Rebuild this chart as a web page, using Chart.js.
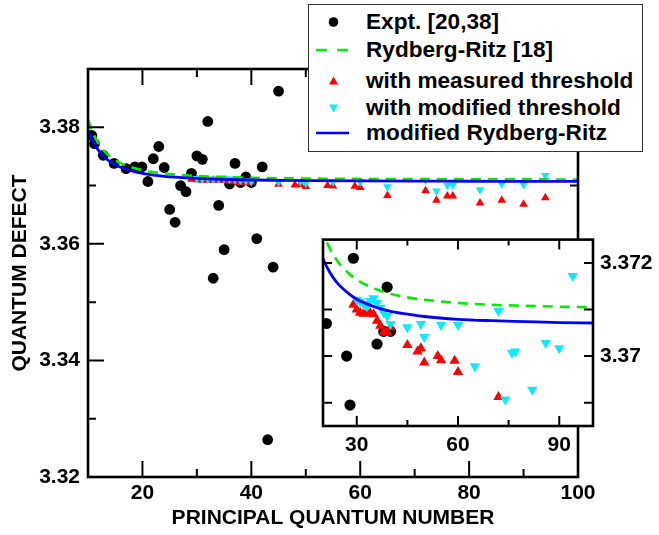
<!DOCTYPE html>
<html>
<head>
<meta charset="utf-8">
<script src="https://cdn.jsdelivr.net/npm/chart.js@4.4.0/dist/chart.umd.min.js"></script>
<style>
html,body{margin:0;padding:0;background:#fff;}
#wrap{position:relative;width:659px;height:535px;overflow:hidden;background:#fff;}
#main{position:absolute;left:0;top:0;}
#inset{position:absolute;left:300px;top:220px;}
#legend{position:absolute;left:308px;top:4px;width:335px;height:148px;box-sizing:border-box;border:1.5px solid #333;background:#fff;font:bold 22.6px "Liberation Sans",Arial,Helvetica,sans-serif;color:#000;}
.row{position:absolute;left:0;width:330px;height:28px;}
.row svg{position:absolute;left:0;top:0;}
.row span{position:absolute;left:57px;top:0;line-height:28px;white-space:nowrap;}
</style>
</head>
<body>
<div id="wrap">
  <canvas id="main" width="659" height="535"></canvas>
  <canvas id="inset" width="359" height="250"></canvas>
  <div id="legend">
    <div class="row" style="top:2.5px"><svg width="50" height="28"><circle cx="24.5" cy="14" r="4.8" fill="#000"/></svg><span>Expt. [20,38]</span></div>
    <div class="row" style="top:30.5px"><svg width="50" height="28"><line x1="7" y1="14" x2="40" y2="14" stroke="#00ee00" stroke-width="2.5" stroke-dasharray="11 10"/></svg><span>Rydberg-Ritz [18]</span></div>
    <div class="row" style="top:62px"><svg width="50" height="28"><polygon points="24.5,9.5 29,17.5 20,17.5" fill="#ff0000"/></svg><span>with measured threshold</span></div>
    <div class="row" style="top:88.5px"><svg width="50" height="28"><polygon points="20,10.5 29,10.5 24.5,18.5" fill="#10e8ff"/></svg><span>with modified threshold</span></div>
    <div class="row" style="top:114px"><svg width="50" height="28"><line x1="7" y1="14" x2="40" y2="14" stroke="#0000ff" stroke-width="2.5"/></svg><span>modified Rydberg-Ritz</span></div>
  </div>
</div>
<script>
// ---------------- data ----------------
const exptN = [10.7, 11.2, 12.8, 14.8, 17.0, 18.6, 19.9, 21, 22, 23, 24, 25, 26, 27, 28, 29, 30, 31, 32, 33, 34, 35, 36, 37, 38, 39, 40, 41, 42, 43, 44, 45];
const exptVals = [3.3786, 3.3772, 3.3752, 3.3738, 3.3729, 3.3732, 3.3732, 3.3707, 3.3746, 3.3767, 3.3731, 3.3659, 3.3637, 3.3700, 3.36895, 3.3721, 3.3751, 3.3745, 3.3810, 3.3541, 3.3666, 3.3590, 3.37026, 3.3738, 3.37053, 3.37148, 3.37053, 3.3609, 3.3732, 3.3264, 3.3560, 3.3862];

const measN = [29, 30, 31, 32, 33, 34, 35, 36, 37, 38, 39, 40, 45, 48, 49, 50, 54, 55, 59, 60, 65, 72, 74, 76, 77, 82, 86, 90, 94];
const measVals = [3.3711, 3.3710, 3.37093, 3.37091, 3.37093, 3.37092, 3.3709, 3.37076, 3.37065, 3.37052, 3.3705, 3.37062, 3.37024, 3.3701, 3.37017, 3.36986, 3.3700, 3.36991, 3.3699, 3.36966, 3.3683, 3.36912, 3.3675, 3.3682, 3.3682, 3.3670, 3.3675, 3.3668, 3.3679];

const modN = [30, 31, 32, 33, 34, 35, 36, 37, 38, 39, 40, 45, 49, 50, 55, 60, 65, 72, 74, 76, 77, 82, 86, 90, 94];
const modVals = [3.37121, 3.37117, 3.37112, 3.37107, 3.37118, 3.37124, 3.37114, 3.37104, 3.37093, 3.37086, 3.37069, 3.37062, 3.37069, 3.37041, 3.37067, 3.37067, 3.36978, 3.37097, 3.36907, 3.37007, 3.3701, 3.36928, 3.37028, 3.37017, 3.37172];

const curveN = [10, 11, 12, 13, 14, 15, 16, 18, 20, 22, 24, 26, 28, 30, 33, 36, 40, 45, 50, 60, 70, 80, 90, 100];
const rydbergRitzVals = [3.38135, 3.37882, 3.37711, 3.37591, 3.37503, 3.37437, 3.37385, 3.37313, 3.37265, 3.37231, 3.37207, 3.37189, 3.37175, 3.37164, 3.37152, 3.37143, 3.37134, 3.37126, 3.37121, 3.37114, 3.37110, 3.37108, 3.37106, 3.37105];
const modRydbergRitzVals = [3.37961, 3.37742, 3.37595, 3.37491, 3.37415, 3.37358, 3.37313, 3.37251, 3.37209, 3.37180, 3.37159, 3.37144, 3.37132, 3.37122, 3.37112, 3.37104, 3.37096, 3.37090, 3.37085, 3.37079, 3.37076, 3.37074, 3.37072, 3.37071];

// tick labels / tick marks
const mainXTickLabels = [20, 40, 60, 80, 100];
const mainXMinor = [30, 50, 70, 90];
const mainYTickLabels = [3.32, 3.34, 3.36, 3.38];
const mainYMinor = [3.33, 3.35, 3.37];
const insetXTickLabels = [30, 60, 90];
const insetXMinor = [45, 75];
const insetYTickValues = [3.370, 3.372];
const insetYTickLabels = ['3.37', '3.372'];
const insetYMinor = [3.369, 3.371];

// ---------------- helpers ----------------
const FONT = '"Liberation Sans", Arial, Helvetica, sans-serif';
const pts = (xs, ys) => xs.map((x, i) => ({x: x, y: ys[i]}));
const CYAN = '#10e8ff', RED = '#ff0000', GREEN = '#00ee00', BLUE = '#0000ff';

function makeDatasets(big) {
  return [
    {label: 'modified Rydberg-Ritz', data: pts(curveN, modRydbergRitzVals), showLine: true, borderColor: BLUE, borderWidth: 2.8, pointRadius: 0, cubicInterpolationMode: 'monotone', clip: 0},
    {label: 'Rydberg-Ritz [18]', data: pts(curveN, rydbergRitzVals), showLine: true, borderColor: GREEN, borderWidth: 2.6, borderDash: [10, 7], pointRadius: 0, cubicInterpolationMode: 'monotone', clip: 0},
    {label: 'with modified threshold', data: pts(modN, modVals), pointStyle: 'triangle', rotation: 180, pointRadius: big ? 6 : 5, backgroundColor: CYAN, borderWidth: 0, showLine: false, clip: 0},
    {label: 'with measured threshold', data: pts(measN, measVals), pointStyle: 'triangle', pointRadius: big ? 6 : 5, backgroundColor: RED, borderWidth: 0, showLine: false, clip: 0},
    {label: 'Expt. [20,38]', data: pts(exptN, exptVals), pointStyle: 'circle', pointRadius: big ? 5.6 : 5.4, backgroundColor: '#000', borderWidth: 0, showLine: false, clip: 0}
  ];
}

const frameTicks = {
  id: 'frameTicks',
  beforeDraw(chart, args, o) {
    if (!o.fill) return;
    const a = chart.chartArea, ctx = chart.ctx;
    ctx.save(); ctx.fillStyle = '#fff';
    ctx.fillRect(a.left, a.top, a.right - a.left, a.bottom - a.top);
    ctx.restore();
  },
  afterDatasetsDraw(chart, args, o) {
    const {ctx, chartArea: a} = chart;
    const x = chart.scales.x, y = chart.scales.y;
    ctx.save();
    ctx.strokeStyle = '#000';
    ctx.lineWidth = o.tickWidth;
    ctx.beginPath();
    const xt = (vals, len) => vals.forEach(v => {
      const p = x.getPixelForValue(v);
      ctx.moveTo(p, a.bottom); ctx.lineTo(p, a.bottom - len);
      ctx.moveTo(p, a.top); ctx.lineTo(p, a.top + len);
    });
    const yt = (vals, len) => vals.forEach(v => {
      const p = y.getPixelForValue(v);
      ctx.moveTo(a.left, p); ctx.lineTo(a.left + len, p);
      ctx.moveTo(a.right, p); ctx.lineTo(a.right - len, p);
    });
    xt(o.xMajor, o.xMajorLen); xt(o.xMinor, o.xMinorLen);
    yt(o.yMajor, o.yMajorLen); yt(o.yMinor, o.yMinorLen);
    ctx.stroke();
    ctx.lineWidth = o.frameWidth;
    ctx.strokeRect(a.left, a.top, a.right - a.left, a.bottom - a.top);
    ctx.restore();
  }
};

// ---------------- main chart ----------------
new Chart(document.getElementById('main'), {
  type: 'scatter',
  data: {datasets: makeDatasets(false)},
  plugins: [frameTicks],
  options: {
    responsive: false, animation: false, events: [], devicePixelRatio: 1,
    layout: {autoPadding: false, padding: {left: 0, top: 69, right: 81, bottom: 0}},
    plugins: {
      legend: {display: false}, tooltip: {enabled: false},
      frameTicks: {fill: false, tickWidth: 2, frameWidth: 2.6,
        xMajor: mainXTickLabels, xMinor: mainXMinor, yMajor: mainYTickLabels, yMinor: mainYMinor,
        xMajorLen: 16, xMinorLen: 8, yMajorLen: 16, yMinorLen: 8}
    },
    scales: {
      x: {
        type: 'linear', position: 'bottom', min: 10, max: 100,
        afterFit(s) { s.height = 58; },
        afterBuildTicks(s) { s.ticks = mainXTickLabels.map(v => ({value: v})); },
        grid: {display: false, drawTicks: false}, border: {display: false},
        ticks: {padding: 4, color: '#000', autoSkip: false, maxRotation: 0, font: {family: FONT, size: 21, weight: 'bold'}, callback: v => String(v)},
        title: {display: true, text: 'PRINCIPAL QUANTUM NUMBER', color: '#000', padding: {top: 0, bottom: 4}, font: {family: FONT, size: 21, weight: 'bold'}}
      },
      y: {
        type: 'linear', position: 'left', min: 3.32, max: 3.39,
        afterFit(s) { s.width = 88; },
        afterBuildTicks(s) { s.ticks = mainYTickLabels.map(v => ({value: v})); },
        grid: {display: false, drawTicks: false}, border: {display: false},
        ticks: {padding: 8, color: '#000', autoSkip: false, font: {family: FONT, size: 21, weight: 'bold'}, callback: v => v.toFixed(2)},
        title: {display: true, text: 'QUANTUM DEFECT', color: '#000', padding: {top: 8, bottom: 0}, font: {family: FONT, size: 21, weight: 'bold'}}
      }
    }
  }
});

// ---------------- inset chart ----------------
new Chart(document.getElementById('inset'), {
  type: 'scatter',
  data: {datasets: makeDatasets(true)},
  plugins: [frameTicks],
  options: {
    responsive: false, animation: false, events: [], devicePixelRatio: 1,
    layout: {autoPadding: false, padding: {left: 23, top: 12, right: 0, bottom: 0}},
    plugins: {
      legend: {display: false}, tooltip: {enabled: false},
      frameTicks: {fill: true, tickWidth: 2, frameWidth: 2.6,
        xMajor: insetXTickLabels, xMinor: insetXMinor, yMajor: insetYTickValues, yMinor: insetYMinor,
        xMajorLen: 10, xMinorLen: 6, yMajorLen: 9, yMinorLen: 9}
    },
    scales: {
      x: {
        type: 'linear', position: 'bottom', min: 20, max: 100,
        afterFit(s) { s.height = 44; },
        afterBuildTicks(s) { s.ticks = insetXTickLabels.map(v => ({value: v})); },
        grid: {display: false, drawTicks: false}, border: {display: false},
        ticks: {padding: 7, color: '#000', autoSkip: false, maxRotation: 0, font: {family: FONT, size: 21, weight: 'bold'}, callback: v => String(v)}
      },
      y: {
        type: 'linear', position: 'right', min: 3.3685, max: 3.3725,
        afterFit(s) { s.width = 66; },
        afterBuildTicks(s) { s.ticks = insetYTickValues.map(v => ({value: v})); },
        grid: {display: false, drawTicks: false}, border: {display: false},
        ticks: {padding: 7, color: '#000', autoSkip: false, font: {family: FONT, size: 21, weight: 'bold'},
          callback: (v, i) => insetYTickLabels[insetYTickValues.indexOf(v)] ?? String(v)}
      }
    }
  }
});
</script>
</body>
</html>
